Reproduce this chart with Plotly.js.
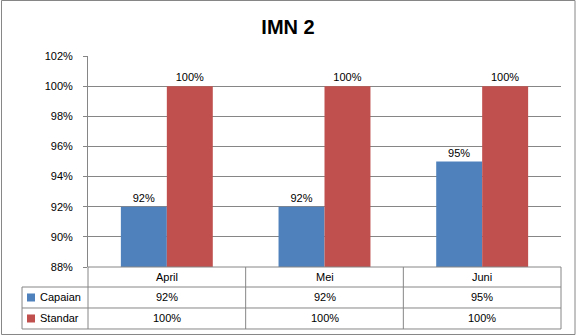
<!DOCTYPE html>
<html>
<head>
<meta charset="utf-8">
<script src="https://cdn.plot.ly/plotly-3.0.1.min.js"></script>
<style>html,body{margin:0;padding:0;background:#fff;}#chart{width:576px;height:336px;}</style>
</head>
<body>
<div id="chart"></div>
<script>
const categories = ["April", "Mei", "Juni"];
const capaian = [92, 92, 95];
const standar = [100, 100, 100];
const seriesNames = ["Capaian", "Standar"];
const seriesColors = ["#4F81BD", "#C0504D"];
const yTicks = [88, 90, 92, 94, 96, 98, 100, 102];

const FONT = "Liberation Sans, Arial, sans-serif";
const GRID = "#868686";

const seriesValues = [capaian, standar];
const traces = seriesValues.map((vals, i) => ({
  type: "bar",
  name: seriesNames[i],
  x: categories,
  y: vals,
  marker: {color: seriesColors[i], line: {width: 0}},
  text: vals.map(v => v + "%"),
  textposition: "outside",
  textfont: {family: FONT, size: 11, color: "#000"},
  cliponaxis: false,
  hoverinfo: "none"
}));

// Table geometry (paper coords relative to plot area)
const rowLines = [0, -0.0948, -0.1943, -0.2938];
const rowCenters = [-0.0474, -0.1445, -0.2440];
const leftX = -0.1395;

const shapes = [];
shapes.push({type: "line", xref: "paper", yref: "paper", x0: 0, x1: 1, y0: rowLines[0], y1: rowLines[0], line: {color: GRID, width: 1}});
for (let k = 1; k < rowLines.length; k++) {
  shapes.push({type: "line", xref: "paper", yref: "paper", x0: leftX, x1: 1, y0: rowLines[k], y1: rowLines[k], line: {color: GRID, width: 1}});
}
shapes.push({type: "line", xref: "paper", yref: "paper", x0: leftX, x1: leftX, y0: rowLines[1], y1: rowLines[3], line: {color: GRID, width: 1}});
shapes.push({type: "line", xref: "paper", yref: "paper", x0: 0, x1: 0, y0: rowLines[0], y1: rowLines[3], line: {color: GRID, width: 1}});
shapes.push({type: "line", xref: "paper", yref: "paper", x0: 1, x1: 1, y0: rowLines[0], y1: rowLines[3], line: {color: GRID, width: 1}});
for (let c = 0; c < categories.length - 1; c++) {
  shapes.push({type: "line", xref: "x", yref: "paper", x0: c + 0.5, x1: c + 0.5, y0: rowLines[0], y1: rowLines[3], line: {color: GRID, width: 1}});
}
seriesNames.forEach((n, i) => {
  const cy = rowCenters[i + 1];
  shapes.push({type: "rect", xref: "paper", yref: "paper", x0: -0.129, x1: -0.112, y0: cy - 0.019, y1: cy + 0.019, fillcolor: seriesColors[i], line: {width: 0}});
});
shapes.push({type: "rect", xref: "paper", yref: "paper", x0: -0.1829, x1: 1.0296, y0: -0.3199, y1: 1.2630, line: {color: GRID, width: 1}, fillcolor: "rgba(0,0,0,0)"});

const annotations = [];
categories.forEach((c, j) => {
  annotations.push({xref: "x", yref: "paper", x: c, y: rowCenters[0], text: c, showarrow: false, yanchor: "middle", font: {family: FONT, size: 11, color: "#000"}});
  seriesValues.forEach((vals, i) => {
    annotations.push({xref: "x", yref: "paper", x: c, y: rowCenters[i + 1], text: vals[j] + "%", showarrow: false, yanchor: "middle", font: {family: FONT, size: 11, color: "#000"}});
  });
});
seriesNames.forEach((n, i) => {
  annotations.push({xref: "paper", yref: "paper", x: -0.1057, y: rowCenters[i + 1], text: n, showarrow: false, xanchor: "left", yanchor: "middle", font: {family: FONT, size: 11, color: "#000"}});
});

const layout = {
  width: 576,
  height: 336,
  margin: {l: 88, r: 15, t: 56, b: 69, pad: 0},
  paper_bgcolor: "#fff",
  plot_bgcolor: "#fff",
  showlegend: false,
  title: {text: "<b>IMN 2</b>", font: {family: FONT, size: 20, color: "#000"}, x: 0.5, xanchor: "center", y: 0.92, yanchor: "middle"},
  barmode: "group",
  bargap: 0.417,
  bargroupgap: 0,
  xaxis: {
    type: "category",
    range: [-0.5, 2.5],
    showticklabels: false,
    ticks: "",
    showgrid: false,
    showline: false,
    zeroline: false,
    fixedrange: true
  },
  yaxis: {
    range: [88, 102],
    tickvals: yTicks,
    ticktext: yTicks.map(v => v + "%"),
    tickfont: {family: FONT, size: 11, color: "#000"},
    ticks: "outside",
    ticklen: 4,
    tickcolor: GRID,
    ticklabelstandoff: 8,
    showgrid: true,
    gridcolor: GRID,
    gridwidth: 1,
    showline: true,
    linecolor: GRID,
    linewidth: 1,
    zeroline: false,
    fixedrange: true
  },
  shapes: shapes,
  annotations: annotations
};

Plotly.newPlot("chart", traces, layout, {displayModeBar: false, staticPlot: true});
</script>
</body>
</html>
